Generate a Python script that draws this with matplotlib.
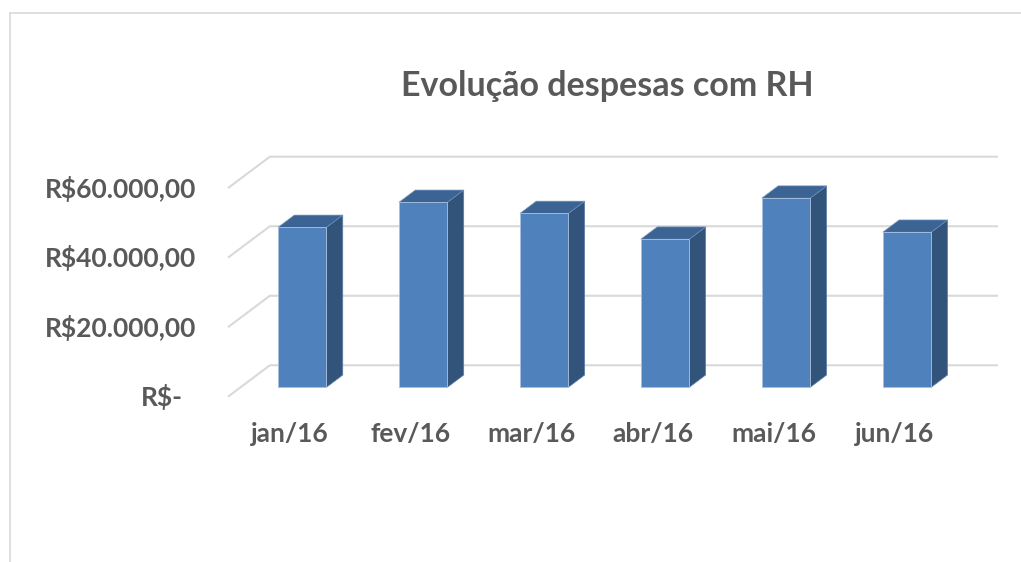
import matplotlib
matplotlib.use("Agg")
import matplotlib.pyplot as plt
import matplotlib.transforms as mtransforms
from matplotlib.patches import Polygon
from matplotlib.lines import Line2D

# dados
meses = ["jan/16", "fev/16", "mar/16", "abr/16", "mai/16", "jun/16"]
despesas = [46000, 53200, 50000, 42600, 54400, 44600]
y_ticks = [0, 20000, 40000, 60000]
y_labels = ["R$-", "R$20.000,00", "R$40.000,00", "R$60.000,00"]
titulo = "Evolução despesas com RH"

W, H = 1021, 562
TXT = "#595959"
GRID = "#d9d9d9"
FRONT, TOP, SIDE = "#4f81bd", "#3b6393", "#32547b"

# fake 3d: depth offset (in data units) for one full floor depth
DX, DY = 0.346, 9036
BW = 0.4          # bar width (categories)
D0, D1 = 0.30, 0.69  # bar depth range

plt.rcParams["font.family"] = ["Lato", "DejaVu Sans"]

fig = plt.figure(figsize=(W / 100, H / 100), dpi=100)
ax = fig.add_axes([228 / W, (H - 396.7) / H, (998 - 228) / W, (396.7 - 156.7) / H])
x_left, x_right = -0.51, len(meses) - 0.49
ax.set_xlim(x_left, x_right + DX)
ax.set_ylim(0, y_ticks[-1] + DY)
ax.axis("off")


def proj(x, v, d):
    return (x + d * DX, v + d * DY)


# gridlines (front diagonal + back wall)
for t in y_ticks:
    ax.plot([x_left, x_left + DX, x_right + DX], [t, t + DY, t + DY],
            color=GRID, lw=1.5, zorder=1, clip_on=False, solid_capstyle="butt")

# bars
for i, v in enumerate(despesas):
    x0, x1 = i - BW / 2, i + BW / 2
    front = [proj(x0, 0, D0), proj(x1, 0, D0), proj(x1, v, D0), proj(x0, v, D0)]
    side = [proj(x1, 0, D0), proj(x1, 0, D1), proj(x1, v, D1), proj(x1, v, D0)]
    top = [proj(x0, v, D0), proj(x1, v, D0), proj(x1, v, D1), proj(x0, v, D1)]
    ax.add_patch(Polygon(side, closed=True, fc=SIDE, ec="#5b7fa8", lw=0.5, zorder=3))
    ax.add_patch(Polygon(top, closed=True, fc=TOP, ec="#6d8fb8", lw=0.5, zorder=3))
    ax.add_patch(Polygon(front, closed=True, fc=FRONT, ec="#a9c0de", lw=0.6, zorder=4))

# y labels
ytrans = mtransforms.blended_transform_factory(fig.transFigure, ax.transData)
for t, lab in zip(y_ticks, y_labels):
    xr = 183 if t == 0 else 196
    tr = mtransforms.offset_copy(ytrans, fig=fig, x=0, y=-9.8, units="dots")
    ax.text(xr / W, t, lab, transform=tr, ha="right", va="baseline",
            fontsize=19, fontweight="bold", color=TXT)

# x labels
xtr = mtransforms.offset_copy(ax.transData, fig=fig, x=0, y=-45.3, units="dots")
for i, m in enumerate(meses):
    ax.text(i, 0, m, transform=xtr, ha="center", va="baseline",
            fontsize=19, fontweight="bold", color=TXT)

fig.text(607 / W, 1 - 96 / H, titulo, ha="center", va="baseline",
         fontsize=24.5, fontweight="bold", color=TXT)

# chart area border (cropped at right and bottom)
fig.add_artist(Line2D([10 / W, 1], [1 - 13 / H] * 2, transform=fig.transFigure,
                      color=GRID, lw=1.2))
fig.add_artist(Line2D([10 / W, 10 / W], [0, 1 - 13 / H], transform=fig.transFigure,
                      color=GRID, lw=1.2))

fig.savefig("out.png", dpi=100, facecolor="white")
